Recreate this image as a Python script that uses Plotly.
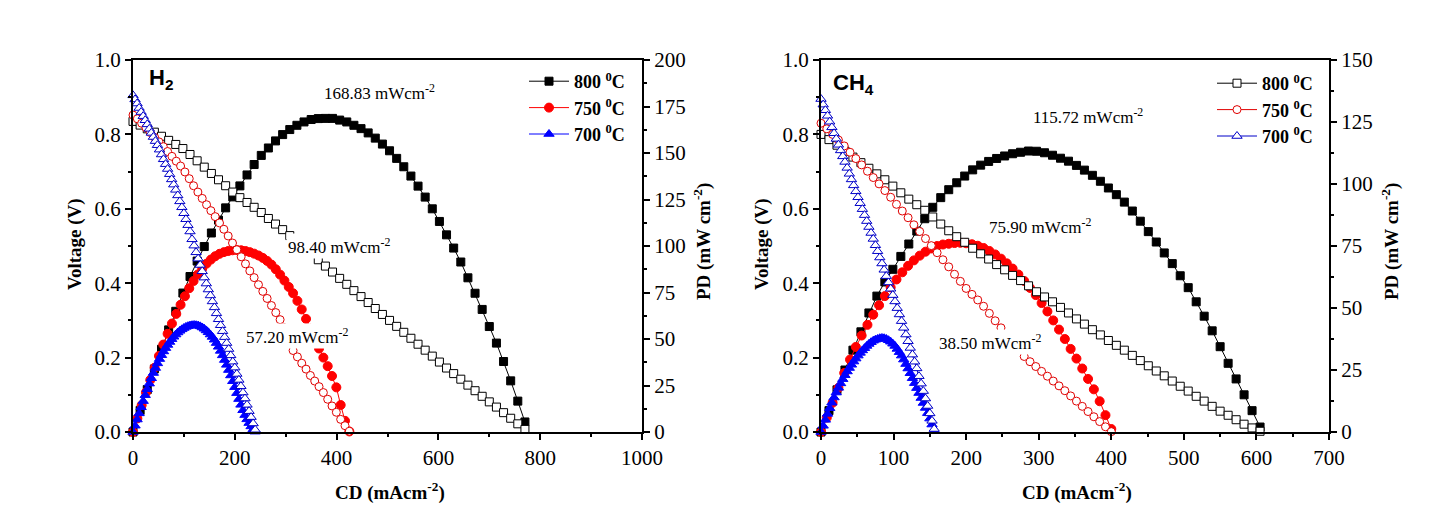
import plotly.graph_objects as go

# ---------------- H2 panel data ----------------
h2_800_cd = [0, 14, 28, 42, 56, 70, 84, 98, 112, 126, 140, 154, 168, 182, 196, 210, 224, 238, 252, 266,
             280, 294, 308, 322, 336, 350, 364, 378, 392, 406, 420, 434, 448, 462, 476, 490, 504, 518, 532, 546,
             560, 574, 588, 602, 616, 630, 644, 658, 672, 686, 700, 714, 728, 742, 756, 770]
h2_800_v = [0.835, 0.825, 0.815, 0.806, 0.795, 0.784, 0.773, 0.762, 0.746, 0.729, 0.712, 0.695, 0.678, 0.662,
            0.645, 0.630, 0.617, 0.604, 0.590, 0.574, 0.559, 0.544, 0.528, 0.512, 0.496, 0.480, 0.463, 0.446,
            0.430, 0.413, 0.397, 0.380, 0.364, 0.348, 0.332, 0.316, 0.300, 0.284, 0.268, 0.252, 0.236, 0.220,
            0.204, 0.188, 0.172, 0.157, 0.142, 0.126, 0.111, 0.096, 0.081, 0.067, 0.052, 0.037, 0.022, 0.007]
h2_800_pd = [0, 11.6, 22.8, 33.9, 44.5, 54.9, 64.9, 74.7, 83.6, 91.9, 99.7, 107.0, 113.9, 120.5, 126.4, 132.3,
             138.2, 143.8, 148.7, 152.7, 156.5, 159.9, 162.6, 164.9, 166.7, 168.0, 168.5, 168.6, 168.6, 167.7,
             166.7, 164.9, 163.1, 160.8, 158.0, 154.8, 151.2, 147.1, 142.6, 137.6, 132.2, 126.3, 120.0, 113.2,
             106.0, 98.9, 91.4, 82.9, 74.6, 65.9, 56.7, 47.8, 37.9, 27.5, 16.6, 5.4]

h2_750_cd = [0, 8.5, 17, 25.5, 34, 42.5, 51, 59.5, 68, 76.5, 85, 93.5, 102, 110.5, 119, 127.5, 136, 144.5, 153,
             161.5, 170, 178.5, 187, 195.5, 204, 212.5, 221, 229.5, 238, 246.5, 255, 263.5, 272, 280.5, 289,
             297.5, 306, 314.5, 323, 331.5, 340, 348.5, 357, 365.5, 374, 382.5, 391, 399.5, 408, 416.5, 425]
h2_750_v = [0.852, 0.842, 0.830, 0.818, 0.805, 0.792, 0.780, 0.767, 0.754, 0.741,
            0.728, 0.715, 0.699, 0.681, 0.662, 0.645, 0.628, 0.611, 0.595, 0.579,
            0.562, 0.545, 0.527, 0.508, 0.490, 0.471, 0.452, 0.433, 0.415, 0.396,
            0.378, 0.359, 0.340, 0.321, 0.302, 0.280, 0.256, 0.219, 0.202, 0.185,
            0.169, 0.152, 0.137, 0.122, 0.106, 0.088, 0.070, 0.053, 0.034, 0.017, 0.002]
h2_750_pd = [0, 7.3, 14.4, 21.3, 28.0, 34.6, 40.9, 47.0, 52.8, 58.3,
             63.5, 68.4, 73.0, 77.3, 81.2, 84.7, 87.8, 90.5, 92.7, 94.5,
             95.8, 96.7, 97.3, 97.7, 97.8, 97.7, 97.3, 96.7, 95.9, 94.9,
             93.6, 92.0, 90.0, 87.5, 84.6, 81.4, 78.0, 74.6, 70.5, 65.9,
             60.8, 55.5, 50.0, 44.9, 40.0, 35.4, 30.1, 24.0, 14.5, 6.0, 0.3]

h2_700_cd = [0, 4, 8, 12, 16, 20, 24, 28, 32, 36, 40, 44, 48, 52, 56, 60, 64, 68, 72, 76, 80, 84, 88, 92, 96,
             100, 104, 108, 112, 116, 120, 124, 128, 132, 136, 140, 144, 148, 152, 156, 160, 164, 168, 172, 176,
             180, 184, 188, 192, 196, 200, 204, 208, 212, 216, 220, 224, 228, 232, 236, 240]
h2_700_v = [0.905, 0.894, 0.883, 0.871, 0.860, 0.849, 0.838, 0.827, 0.815, 0.804, 0.793, 0.782, 0.771, 0.759,
            0.746, 0.733, 0.720, 0.707, 0.693, 0.679, 0.665, 0.651, 0.636, 0.620, 0.604, 0.588, 0.572, 0.556,
            0.539, 0.518, 0.501, 0.483, 0.466, 0.449, 0.432, 0.415, 0.399, 0.383, 0.367, 0.351, 0.335, 0.319,
            0.303, 0.287, 0.271, 0.255, 0.239, 0.223, 0.206, 0.189, 0.173, 0.156, 0.140, 0.123, 0.106, 0.090,
            0.073, 0.056, 0.040, 0.023, 0.006]
h2_700_pd = [0, 3.4, 6.7, 10.0, 13.3, 16.6, 19.8, 23.0, 26.0, 28.9, 31.7, 34.4, 36.9, 39.2, 41.3, 43.3, 45.1,
             46.8, 48.4, 49.9, 51.2, 52.4, 53.5, 54.4, 55.2, 55.9, 56.5, 56.9, 57.2, 57.4, 57.5, 57.4, 57.2,
             56.8, 56.2, 55.5, 54.6, 53.6, 52.4, 51.1, 49.6, 47.8, 45.8, 43.6, 41.2, 38.7, 36.1, 33.3, 30.4,
             27.3, 24.1, 20.9, 17.7, 14.6, 11.7, 9.1, 6.8, 4.8, 3.0, 1.4, 0.2]

# ---------------- CH4 panel data ----------------
ch4_800_cd = [0, 11, 22, 33, 44, 55, 66, 77, 88, 99, 110, 121, 132, 143, 154, 165, 176, 187, 198, 209, 220,
              231, 242, 253, 264, 275, 286, 297, 308, 319, 330, 341, 352, 363, 374, 385, 396, 407, 418, 429,
              440, 451, 462, 473, 484, 495, 506, 517, 528, 539, 550, 561, 572, 583, 594, 605]
ch4_800_v = [0.800, 0.786, 0.771, 0.755, 0.739, 0.724, 0.709, 0.694, 0.678, 0.661,
             0.643, 0.626, 0.611, 0.596, 0.578, 0.559, 0.541, 0.525, 0.510, 0.494,
             0.479, 0.465, 0.450, 0.436, 0.421, 0.407, 0.393, 0.377, 0.363, 0.350,
             0.335, 0.320, 0.304, 0.290, 0.275, 0.261, 0.246, 0.233, 0.220, 0.206,
             0.192, 0.178, 0.164, 0.151, 0.137, 0.123, 0.110, 0.096, 0.083, 0.069,
             0.056, 0.045, 0.033, 0.021, 0.011, 0.002]
ch4_800_pd = [0, 8.6, 17.0, 25.0, 33.0, 40.4, 48.0, 54.8, 60.5, 65.6,
              70.8, 75.8, 81.0, 86.0, 90.6, 94.5, 97.7, 100.5, 103.2, 105.7,
              107.6, 109.1, 110.3, 111.3, 112.2, 112.8, 113.3, 113.2, 112.6, 111.6,
              110.4, 109.2, 107.5, 105.6, 103.5, 101.1, 98.4, 95.7, 92.7, 89.1,
              85.0, 80.8, 76.6, 72.2, 67.9, 63.0, 58.2, 52.5, 46.7, 40.8,
              34.4, 27.7, 21.4, 15.0, 8.6, 2.0]

ch4_750_cd = [0, 8, 16, 24, 32, 40, 48, 56, 64, 72, 80, 88, 96, 104, 112, 120, 128, 136, 144, 152, 160, 168,
              176, 184, 192, 200, 208, 216, 224, 232, 240, 248, 256, 264, 272, 280, 288, 296, 304, 312, 320,
              328, 336, 344, 352, 360, 368, 376, 384, 392, 400]
ch4_750_v = [0.830, 0.815, 0.800, 0.785, 0.769, 0.752, 0.735, 0.718, 0.701, 0.684,
             0.667, 0.649, 0.631, 0.612, 0.594, 0.576, 0.557, 0.539, 0.520, 0.501,
             0.482, 0.463, 0.444, 0.424, 0.405, 0.386, 0.370, 0.355, 0.338, 0.319,
             0.299, 0.280, 0.261, 0.241, 0.222, 0.203, 0.189, 0.176, 0.163, 0.150,
             0.137, 0.124, 0.111, 0.097, 0.083, 0.069, 0.055, 0.041, 0.028, 0.014, 0.001]
ch4_750_pd = [0, 5.8, 11.8, 17.8, 23.8, 29.2, 34.3, 38.9, 43.2, 47.3,
              51.1, 54.8, 58.3, 61.5, 64.4, 67.0, 69.2, 71.1, 72.7, 74.0,
              75.0, 75.6, 75.9, 76.2, 76.3, 76.1, 75.7, 75.1, 74.2, 73.0,
              71.6, 69.9, 68.0, 65.9, 63.5, 60.9, 58.1, 55.2, 52.0, 48.6,
              45.0, 41.3, 37.5, 33.5, 29.6, 25.6, 21.4, 17.2, 12.4, 6.8, 1.2]

ch4_700_cd = [0, 3, 6, 9, 12, 15, 18, 21, 24, 27, 30, 33, 36, 39, 42, 45, 48, 51, 54, 57, 60, 63, 66, 69, 72,
              75, 78, 81, 84, 87, 90, 93, 96, 99, 102, 105, 108, 111, 114, 117, 120, 123, 126, 129, 132, 135,
              138, 141, 144, 147, 150, 153, 156]
ch4_700_v = [0.895, 0.880, 0.865, 0.850, 0.834, 0.819, 0.803, 0.788, 0.772, 0.757, 0.741, 0.726, 0.710, 0.694,
             0.679, 0.663, 0.647, 0.631, 0.615, 0.599, 0.583, 0.567, 0.551, 0.535, 0.519, 0.502, 0.486, 0.469,
             0.453, 0.436, 0.419, 0.402, 0.385, 0.368, 0.351, 0.333, 0.316, 0.298, 0.280, 0.262, 0.244, 0.226,
             0.208, 0.189, 0.171, 0.150, 0.130, 0.110, 0.090, 0.070, 0.050, 0.030, 0.008]
ch4_700_pd = [0, 2.5, 4.9, 7.3, 9.6, 11.8, 13.9, 15.9, 17.8, 19.6, 21.3, 22.9, 24.4, 25.8, 27.1, 28.4, 29.6,
              30.8, 31.9, 32.9, 33.8, 34.7, 35.5, 36.2, 36.8, 37.2, 37.5, 37.8, 37.9, 37.8, 37.5, 37.0, 36.4,
              35.6, 34.7, 33.5, 32.2, 30.8, 29.2, 27.4, 25.6, 23.7, 21.7, 19.7, 17.7, 15.7, 13.7, 11.7, 9.7,
              7.6, 5.4, 3.0, 0.6]

temps = ["800", "750", "700"]
peak_h2 = ["168.83", "98.40", "57.20"]
peak_ch4 = ["115.72", "75.90", "38.50"]

for a, b, c in [(h2_800_cd, h2_800_v, h2_800_pd), (h2_750_cd, h2_750_v, h2_750_pd),
                (h2_700_cd, h2_700_v, h2_700_pd), (ch4_800_cd, ch4_800_v, ch4_800_pd),
                (ch4_750_cd, ch4_750_v, ch4_750_pd), (ch4_700_cd, ch4_700_v, ch4_700_pd)]:
    assert len(a) == len(b) == len(c), (len(a), len(b), len(c))

SERIF = "Liberation Serif, Times New Roman, serif"
SANS = "Liberation Sans, Arial, sans-serif"
fill_colors = ["#000000", "#ff0000", "#0000ff"]
open_line_colors = ["#000000", "#e00000", "#0000c8"]
symbols = ["square", "circle", "triangle-up"]
fill_sizes = [8, 9, 9]
open_sizes = [8, 8, 9]

fig = go.Figure()


def add_panel(cds, vs, pds, xa, ya_pd, ya_v, legend_name, legend_filled):
    # power density (filled symbols) - base layer
    for i in range(3):
        fig.add_trace(go.Scatter(
            x=cds[i], y=pds[i], xaxis=xa, yaxis=ya_pd, mode="lines+markers",
            line=dict(color=fill_colors[i], width=1),
            marker=dict(symbol=symbols[i], size=fill_sizes[i], color=fill_colors[i],
                        line=dict(color=fill_colors[i], width=1)),
            name="<b>%s <sup>0</sup>C</b>" % temps[i], legend=legend_name,
            showlegend=legend_filled, cliponaxis=False))
    # voltage (open symbols) - overlay layer
    for i in range(3):
        fig.add_trace(go.Scatter(
            x=cds[i], y=vs[i], xaxis=xa, yaxis=ya_v, mode="lines+markers",
            line=dict(color=open_line_colors[i], width=1),
            marker=dict(symbol=symbols[i], size=open_sizes[i], color="white",
                        line=dict(color=open_line_colors[i], width=1)),
            name="<b>%s <sup>0</sup>C</b>" % temps[i], legend=legend_name,
            showlegend=not legend_filled, cliponaxis=False))


add_panel([h2_800_cd, h2_750_cd, h2_700_cd], [h2_800_v, h2_750_v, h2_700_v],
          [h2_800_pd, h2_750_pd, h2_700_pd], "x", "y", "y2", "legend", True)
add_panel([ch4_800_cd, ch4_750_cd, ch4_700_cd], [ch4_800_v, ch4_750_v, ch4_700_v],
          [ch4_800_pd, ch4_750_pd, ch4_700_pd], "x2", "y3", "y4", "legend2", False)

W, H = 1431, 521
xL = [133 / W, 642 / W]
xR = [821 / W, 1329 / W]
yD = [1 - 432 / H, 1 - 60 / H]

axis_common = dict(showline=True, linewidth=2, linecolor="black", ticks="outside", ticklen=6,
                   tickwidth=1.5, tickcolor="black", showgrid=False, zeroline=False, automargin=False,
                   tickfont=dict(family=SERIF, size=21, color="black"))


def minor(d):
    return dict(dtick=d, ticks="outside", ticklen=3, tickwidth=1.5, tickcolor="black", showgrid=False)


fig.update_layout(
    width=W, height=H, margin=dict(l=0, r=0, t=0, b=0, autoexpand=False),
    paper_bgcolor="white", plot_bgcolor="white",
    font=dict(family=SERIF, size=18, color="black"),
    xaxis=dict(domain=xL, range=[0, 1000], dtick=200, anchor="y", mirror=True, minor=minor(100),
               **axis_common),
    yaxis=dict(domain=yD, range=[0, 200], dtick=25, side="right", anchor="x", minor=minor(12.5),
               **axis_common),
    yaxis2=dict(range=[0, 1], dtick=0.2, tickformat=".1f", side="left", overlaying="y", anchor="x",
                minor=minor(0.1), **axis_common),
    xaxis2=dict(domain=xR, range=[0, 700], dtick=100, anchor="y3", mirror=True, minor=minor(50),
                **axis_common),
    yaxis3=dict(domain=yD, range=[0, 150], dtick=25, side="right", anchor="x2", minor=minor(12.5),
                **axis_common),
    yaxis4=dict(range=[0, 1], dtick=0.2, tickformat=".1f", side="left", overlaying="y3", anchor="x2",
                minor=minor(0.1), **axis_common),
    legend=dict(x=524 / W, y=1 - 63 / H, xanchor="left", yanchor="top", bgcolor="rgba(0,0,0,0)",
                font=dict(family=SERIF, size=18, color="black"), itemwidth=40, tracegroupgap=0),
    legend2=dict(x=1212 / W, y=1 - 65 / H, xanchor="left", yanchor="top", bgcolor="rgba(0,0,0,0)",
                 font=dict(family=SERIF, size=18, color="black"), itemwidth=40, tracegroupgap=0),
)

# axis titles
title_font = dict(family=SERIF, size=19, color="black")
axis_titles = [
    ("<b>Voltage (V)</b>", 75, 244, -90),
    ("<b>PD (mW cm<sup>-2</sup>)</b>", 702, 242, -90),
    ("<b>CD (mAcm<sup>-2</sup>)</b>", 390, 491, 0),
    ("<b>Voltage (V)</b>", 762, 244, -90),
    ("<b>PD (mW cm<sup>-2</sup>)</b>", 1390, 242, -90),
    ("<b>CD (mAcm<sup>-2</sup>)</b>", 1077, 491, 0),
]
for txt, px, py, ang in axis_titles:
    fig.add_annotation(x=px / W, y=1 - py / H, xref="paper", yref="paper", xanchor="center",
                       yanchor="middle", text=txt, textangle=ang, showarrow=False, font=title_font)

ann_font = dict(family=SERIF, size=17, color="black")
# peak power density labels (white boxes, as in the original)
h2_label_pos = [(372, 0.913), (301, 0.499), (218, 0.257)]
ch4_label_pos = [(289, 0.849), (229, 0.553), (160, 0.243)]
for txt, (x, y) in zip(peak_h2, h2_label_pos):
    fig.add_annotation(x=x, y=y, xref="x", yref="y2", xanchor="left", yanchor="middle",
                       text="%s mWcm<sup>-2</sup>" % txt, showarrow=False, font=ann_font,
                       bgcolor="white", borderpad=1)
for txt, (x, y) in zip(peak_ch4, ch4_label_pos):
    fig.add_annotation(x=x, y=y, xref="x2", yref="y4", xanchor="left", yanchor="middle",
                       text="%s mWcm<sup>-2</sup>" % txt, showarrow=False, font=ann_font,
                       bgcolor="white", borderpad=1)

# fuel labels
fig.add_annotation(x=147 / W, y=1 - 79 / H, xref="paper", yref="paper", xanchor="left", yanchor="middle",
                   text="<b>H<sub>2</sub></b>", showarrow=False, font=dict(family=SANS, size=22, color="black"))
fig.add_annotation(x=831 / W, y=1 - 84 / H, xref="paper", yref="paper", xanchor="left", yanchor="middle",
                   text="<b>CH<sub>4</sub></b>", showarrow=False, font=dict(family=SANS, size=22, color="black"))

fig.write_html("out.html")
